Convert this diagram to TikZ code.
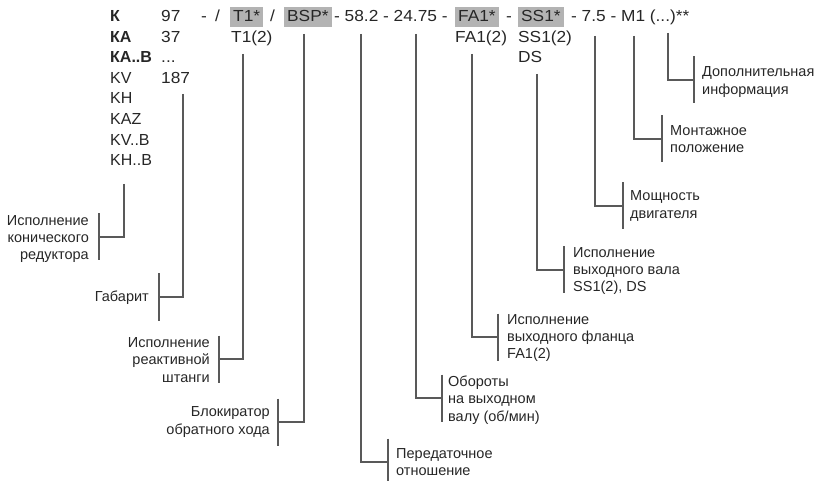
\documentclass[tikz,border=0pt]{standalone}
\usepackage{fontspec}
\setmainfont{Liberation Sans}
\newfontfamily\codefont[FakeStretch=1.08]{Liberation Sans}
\usetikzlibrary{calc}
\definecolor{txt}{HTML}{262626}
\definecolor{ln}{HTML}{595959}
\definecolor{hl}{HTML}{B3B3B3}
\begin{document}
\begin{tikzpicture}[x=1pt,y=-1pt,
 code/.style={anchor=base west,inner sep=0pt,font=\codefont\fontsize{16}{18}\selectfont,text=txt},
 colA/.style={code,font=\fontsize{16}{18}\selectfont},
 colAb/.style={code,font=\fontsize{16}{18}\selectfont\bfseries},
 hlbox/.style={code,fill=hl,inner xsep=3pt,text height=14pt,text depth=5.5pt},
 lbl/.style={inner sep=0pt,font=\fontsize{14.5}{17.3}\selectfont,text=txt},
 lblr/.style={lbl,align=right,anchor=east},
 lbll/.style={lbl,align=left,anchor=west},
 conn/.style={draw=ln,line width=2.6pt},
]
\useasboundingbox (0,0) rectangle (817,481);

% ---- column 1
\node[colAb] (c1) at (110,21.5) {К};
\node[colAb] (c2) at (110,42.1) {КА};
\node[colAb] (c3) at (110,62.7) {КА..В};
\node[colA] (c4) at (110,83.3) {KV};
\node[colA] (c5) at (110,103.9) {KH};
\node[colA] (c6) at (110,124.5) {KAZ};
\node[colA] (c7) at (110,145.1) {KV..B};
\node[colA] (c8) at (110,165.7) {KH..B};

% ---- column 2
\node[code] (s1) at (161,21.5) {97};
\node[code] (s2) at (161,42.1) {37};
\node[code] (s3) at (161,62.7) {...};
\node[code] (s4) at (161,83.3) {187};

% ---- code row
\node[code] (d1) at (201,21.5) {-};
\node[code] (sl1) at (215,21.5) {/};
\node[hlbox] (hT) at (230,21.5) {T1*};
\node[code] (sl2) at (270,21.5) {/};
\node[hlbox] (hB) at (284,21.5) {BSP*};
\node[code] (grpA) at (334,21.5) {- 58.2 - 24.75 -};
\node[hlbox] (hF) at (455,21.5) {FA1*};
\node[code] (d5) at (506,21.5) {-};
\node[hlbox] (hS) at (518,21.5) {SS1*};
\node[code] (grpB) at (571,21.5) {- 7.5 - M1 (...)**};

% ---- variants
\node[code] (v1) at (231,42.1) {T1(2)};
\node[code] (v2) at (455,42.1) {FA1(2)};
\node[code] (v3) at (518,42.1) {SS1(2)};
\node[code] (v4) at (518,62.7) {DS};

% ---- connectors: top point, elbow/bracket midpoint
\coordinate (tA) at (124,184);  \coordinate (mA) at (99,237);
\coordinate (tB) at (183,94);   \coordinate (mB) at (159,297);
\coordinate (tC) at (243,54);   \coordinate (mC) at (219,359);
\coordinate (tD) at (304,34);   \coordinate (mD) at (278,422);
\coordinate (tE) at (361,34);   \coordinate (mE) at (388,462);
\coordinate (tF) at (416,34);   \coordinate (mF) at (442,398);
\coordinate (tG) at (472,54);   \coordinate (mG) at (498,337);
\coordinate (tH) at (537,74);   \coordinate (mH) at (564,270);
\coordinate (tI) at (595,36);   \coordinate (mI) at (623,206);
\coordinate (tJ) at (634,36);   \coordinate (mJ) at (662,139);
\coordinate (tK) at (668,33);   \coordinate (mK) at (694,80);

\foreach \p in {A,B,C,D,E,F,G,H,I,J,K}{
  \draw[conn] (t\p) |- (m\p);
  \draw[conn] ($(m\p)+(0,-23.5)$) -- ($(m\p)+(0,23.5)$);
}

% ---- labels
\node[lblr] (lA) at ($(mA)+(-10,2)$) {Исполнение\\конического\\редуктора};
\node[lblr] (lB) at ($(mB)+(-10,1)$) {Габарит};
\node[lblr] (lC) at ($(mC)+(-9,1)$) {Исполнение\\реактивной\\штанги};
\node[lblr] (lD) at ($(mD)+(-8,0)$) {Блокиратор\\обратного хода};
\node[lbll] (lE) at ($(mE)+(8,0)$) {Передаточное\\отношение};
\node[lbll] (lF) at ($(mF)+(6,2)$) {Обороты\\на выходном\\валу (об/мин)};
\node[lbll] (lG) at ($(mG)+(9,1)$) {Исполнение\\выходного фланца\\FA1(2)};
\node[lbll] (lH) at ($(mH)+(9,1)$) {Исполнение\\выходного вала\\SS1(2), DS};
\node[lbll] (lI) at ($(mI)+(7,0)$) {Мощность\\двигателя};
\node[lbll] (lJ) at ($(mJ)+(8,0)$) {Монтажное\\положение};
\node[lbll] (lK) at ($(mK)+(8,2)$) {Дополнительная\\информация};
\end{tikzpicture}
\end{document}
